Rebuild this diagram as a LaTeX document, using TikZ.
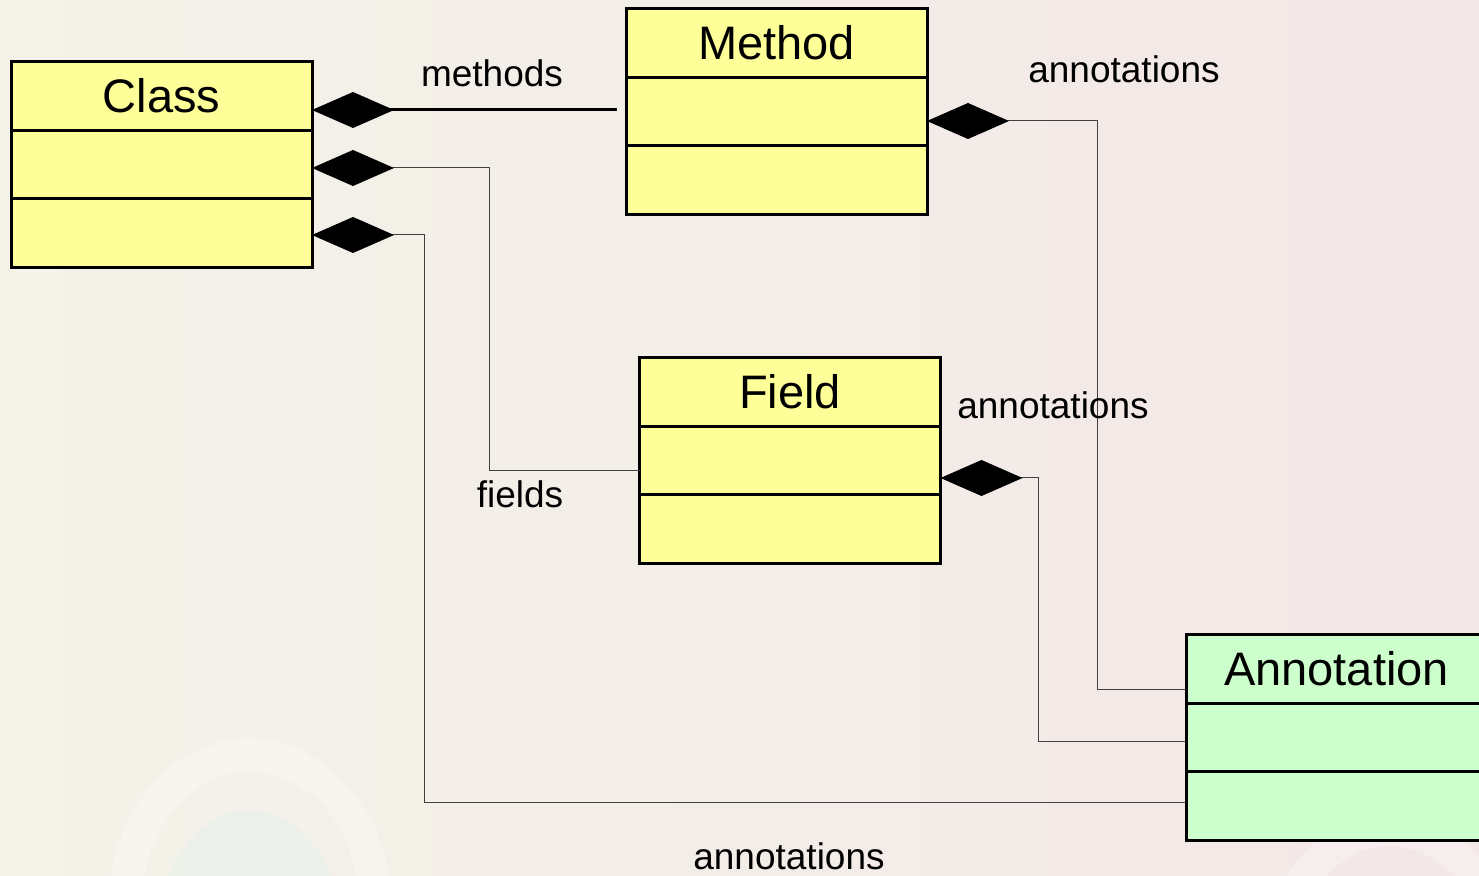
\documentclass[tikz,border=0pt]{standalone}
\usepackage{fontspec}
\setmainfont{Liberation Sans}
\usetikzlibrary{calc,positioning,arrows.meta}
\definecolor{classyellow}{RGB}{255,255,153}
\definecolor{annogreen}{RGB}{204,255,204}
\definecolor{bgleft}{RGB}{243,243,233}
\definecolor{bgright}{RGB}{243,231,231}
\tikzset{
	title/.style={draw, line width=1.5pt, fill=classyellow, outer sep=0pt, inner sep=0pt,
		minimum width=150.5pt, minimum height=34.25pt, font=\fontsize{23.5}{28}\selectfont},
	part/.style={title},
	comp/.style={draw=black!75, line width=0.5pt,
		{Diamond[length=41pt, width=18pt, color=black, fill=black]}-},
	lbl/.style={font=\fontsize{18.5}{22}\selectfont, inner sep=0pt},
}

\begin{document}
\begin{tikzpicture}[x=0.5pt, y=-0.5pt]
		%%%%% START %%%%%
		
		\useasboundingbox (0, 0) rectangle (1479, 876);
		\clip (0, 0) rectangle (1479, 876);
		\shade[left color=bgleft, right color=bgright] (0, 0) rectangle (1479, 876);
		\fill[red!30!cyan!20, opacity=0.25] (250, 930) ellipse (90 and 120);
		\draw[white, line width=16pt, opacity=0.3] (250, 905) ellipse (125 and 150);
		\draw[white, line width=16pt, opacity=0.3] (1390, 960) ellipse (110 and 130);
		
		% classes
		\node[title] (cls-t) at (161.5, 96) {Class};
		\node[part, below=0pt of cls-t] (cls-a) {};
		\node[part, below=0pt of cls-a] (cls-o) {};
		
		\node[title] (mth-t) at (776.5, 43) {Method};
		\node[part, below=0pt of mth-t] (mth-a) {};
		\node[part, below=0pt of mth-a] (mth-o) {};
		
		\node[title] (fld-t) at (790, 392) {Field};
		\node[part, below=0pt of fld-t] (fld-a) {};
		\node[part, below=0pt of fld-a] (fld-o) {};
		
		\node[title, fill=annogreen] (ann-t) at (1336.5, 669) {Annotation};
		\node[part, fill=annogreen, below=0pt of ann-t] (ann-a) {};
		\node[part, fill=annogreen, below=0pt of ann-a] (ann-o) {};
		
		% compositions
		\coordinate (mth-end) at (617, 110);
		\draw[comp, draw=black, line width=1.5pt] (cls-t.east |- mth-end) -- (mth-end);
		
		\coordinate (fld-bend) at (489, 471);
		\draw[comp] (cls-a.east |- 0, 168) -| (fld-bend) -- (fld-bend -| fld-a.west);
		
		\coordinate (cls-bend) at (424, 803);
		\draw[comp] (cls-o.east |- 0, 235) -| (cls-bend) -- (cls-bend -| ann-o.west);
		
		\coordinate (mth-bend) at (1097, 690);
		\draw[comp] (mth-a.east |- 0, 121) -| (mth-bend) -- (mth-bend -| ann-t.west);
		
		\coordinate (fld-abend) at (1038, 742);
		\draw[comp] (fld-a.east |- 0, 478) -| (fld-abend) -- (fld-abend -| ann-a.west);
		
		% role names
		\node[lbl] (lbl-methods) at (492, 73) {methods};
		\node[lbl] (lbl-fields) at (520, 494) {fields};
		\node[lbl] (lbl-mth-ann) at (1124, 69) {annotations};
		\node[lbl] (lbl-fld-ann) at (1053, 405) {annotations};
		\node[lbl] (lbl-cls-ann) at (789, 856) {annotations};
		
		%%%%% END %%%%%
	\end{tikzpicture}
\end{document}
